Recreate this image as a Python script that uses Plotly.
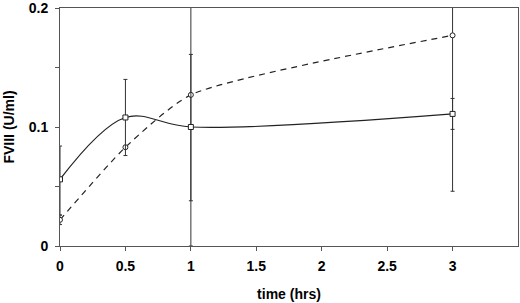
import plotly.graph_objects as go

time = [0, 0.5, 1, 3]
solid_vals = [0.056, 0.108, 0.100, 0.111]
solid_err_plus = [0.028, 0.032, 0.061, 0.013]
solid_err_minus = [0.030, 0.032, 0.062, 0.013]
dashed_vals = [0.022, 0.083, 0.127, 0.177]
dashed_err_plus = [0.004, 0.0, 0.127, 0.131]
dashed_err_minus = [0.004, 0.0, 0.127, 0.131]

ytick_vals = [0, 0.05, 0.1, 0.15, 0.2]
ytick_text = ["0", "", "0.1", "", "0.2"]
xtick_vals = [0, 0.5, 1, 1.5, 2, 2.5, 3]
xtick_text = ["0", "0.5", "1", "1.5", "2", "2.5", "3"]

FONT = "Liberation Sans, Arial, sans-serif"

fig = go.Figure()
fig.add_trace(go.Scatter(
    x=time, y=dashed_vals, mode="lines+markers", line_shape="spline",
    line=dict(color="#222", width=1.2, dash="6px,5px", smoothing=0.6),
    marker=dict(symbol="circle", size=5, color="white", line=dict(color="#222", width=1)),
    error_y=dict(type="data", symmetric=False, array=dashed_err_plus, arrayminus=dashed_err_minus,
                 color="#333", thickness=1, width=2),
    showlegend=False,
))
fig.add_trace(go.Scatter(
    x=time, y=solid_vals, mode="lines+markers", line_shape="spline",
    line=dict(color="#222", width=1.2, smoothing=1),
    marker=dict(symbol="square", size=5, color="white", line=dict(color="#222", width=1)),
    error_y=dict(type="data", symmetric=False, array=solid_err_plus, arrayminus=solid_err_minus,
                 color="#333", thickness=1, width=2),
    showlegend=False,
))

fig.update_layout(
    width=520, height=303,
    margin=dict(l=60, r=2, t=8, b=57),
    paper_bgcolor="white", plot_bgcolor="white",
    font=dict(family=FONT, color="black"),
)
fig.update_xaxes(
    range=[0, 3.5], tickvals=xtick_vals, ticktext=xtick_text,
    ticks="outside", ticklen=4, tickcolor="#555", tickwidth=1,
    showgrid=False, zeroline=False, automargin=False,
    ticklabeloverflow="allow", ticklabelstandoff=3,
    showline=True, linecolor="#555", linewidth=1, mirror=True,
    tickfont=dict(size=14, family=FONT, weight="bold"),
    title=dict(text="<b>time (hrs)</b>", font=dict(size=14), standoff=16),
)
fig.update_yaxes(
    range=[0, 0.2], tickvals=ytick_vals, ticktext=ytick_text,
    ticks="outside", ticklen=4, tickcolor="#555", tickwidth=1,
    showgrid=False, zeroline=False, automargin=False,
    ticklabeloverflow="allow", ticklabelstandoff=4,
    showline=True, linecolor="#555", linewidth=1, mirror=True,
    tickfont=dict(size=14, family=FONT, weight="bold"),
    title=dict(text="<b>FVIII (U/ml)</b>", font=dict(size=14), standoff=10),
)

fig.write_html("out.html", config={"displayModeBar": False, "staticPlot": True},
               post_script="document.body.style.margin='0';document.body.style.overflow='hidden';")
